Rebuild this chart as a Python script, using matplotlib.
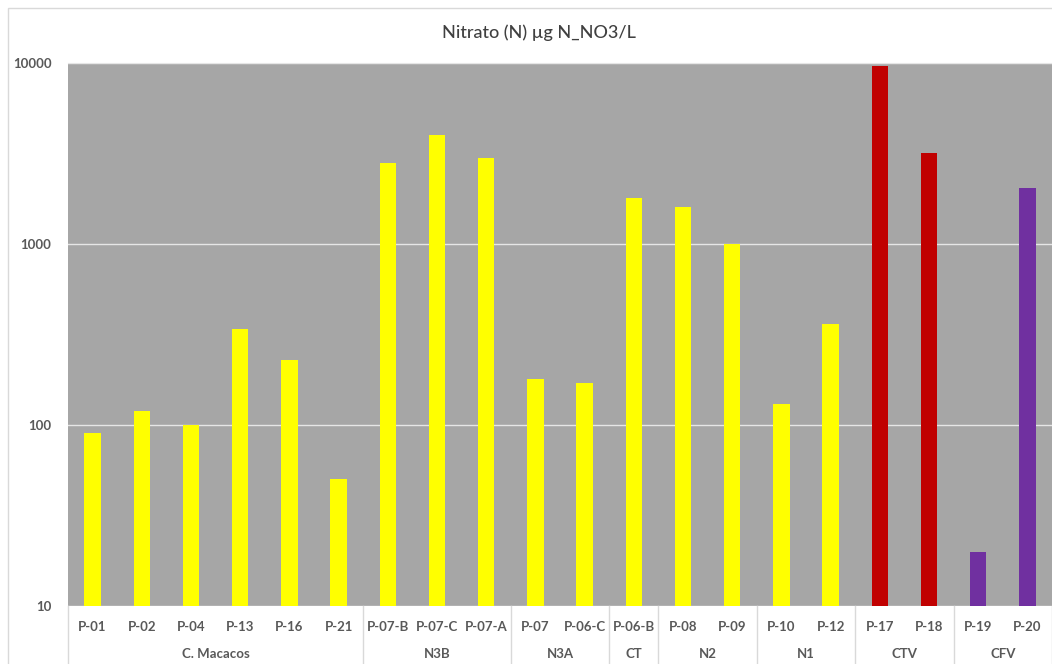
import matplotlib
matplotlib.use("Agg")
import matplotlib.pyplot as plt
from matplotlib.patches import Rectangle
import matplotlib.transforms as mtransforms

plt.rcParams['font.family'] = ['Lato', 'DejaVu Sans']

categories = ["P-01", "P-02", "P-04", "P-13", "P-16", "P-21",
              "P-07-B", "P-07-C", "P-07-A", "P-07", "P-06-C", "P-06-B",
              "P-08", "P-09", "P-10", "P-12", "P-17", "P-18", "P-19", "P-20"]
values = [90, 120, 100, 340, 230, 50,
          2800, 4000, 3000, 180, 170, 1800,
          1600, 1000, 130, 360, 9600, 3200, 20, 2050]
groups = ["C. Macacos", "N3B", "N3A", "CT", "N2", "N1", "CTV", "CFV"]
group_sizes = [6, 3, 2, 1, 2, 2, 2, 2]
group_colors = {"CTV": "#C00000", "CFV": "#7030A0"}
default_color = "#FFFF00"
title = "Nitrato (N) µg N_NO3/L"
yticks = [10, 100, 1000, 10000]

W, H = 1052, 664
fig = plt.figure(figsize=(W / 100, H / 100), dpi=100)
fig.patch.set_facecolor("white")
fig.patches.append(Rectangle((8 / W, -0.01), 1.02, 1 - 8 / H + 0.01, transform=fig.transFigure,
                             fill=False, edgecolor="#D9D9D9", linewidth=1))

left, right, top, bottom = 68, 1052, 63, 606
ax = fig.add_axes([left / W, 1 - bottom / H, (right - left) / W, (bottom - top) / H])
ax.set_facecolor("#A6A6A6")

colors = []
for g, n in zip(groups, group_sizes):
    colors += [group_colors.get(g, default_color)] * n

x = list(range(len(categories)))
ax.bar(x, values, width=0.33, color=colors, zorder=3, bottom=0)
ax.set_yscale("log")
ax.set_ylim(10, 10000)
ax.set_xlim(-0.5, len(categories) - 0.5)
ax.set_yticks(yticks)
ax.set_yticklabels([str(v) for v in yticks], fontsize=9.5, fontweight="bold", color="#595959")
ax.yaxis.set_minor_locator(matplotlib.ticker.NullLocator())
ax.tick_params(axis="y", length=0, pad=12)
ax.tick_params(axis="x", length=0)
ax.set_xticks([])
ax.grid(axis="y", color="#E6E6E6", linewidth=1, zorder=1)
for s in ax.spines.values():
    s.set_visible(False)
ax.spines["top"].set_visible(True)
ax.spines["top"].set_color("#E6E6E6")

trans = mtransforms.blended_transform_factory(ax.transData, ax.transAxes)
ph = bottom - top
tick_y = -(627 - bottom) / ph
grp_y = -(654 - bottom) / ph
sep_bot = -(H - bottom + 2) / ph
for i, c in enumerate(categories):
    ax.text(i, tick_y, c, transform=trans, ha="center", va="center",
            fontsize=9.5, fontweight="bold", color="#595959", clip_on=False)

start = 0
for g, n in zip(groups, group_sizes):
    center = start + (n - 1) / 2
    ax.text(center, grp_y, g, transform=trans, ha="center", va="center",
            fontsize=9.5, fontweight="bold", color="#595959", clip_on=False)
    edge = start + n - 0.5
    ax.plot([edge, edge], [0, sep_bot], transform=trans, color="#D9D9D9",
            linewidth=1, clip_on=False)
    start += n
ax.plot([-0.5, -0.5], [0, sep_bot], transform=trans, color="#D9D9D9",
        linewidth=1, clip_on=False)

fig.text(539 / W, 1 - 33 / H, title, ha="center", va="center",
         fontsize=13, color="#404040", fontweight="medium")

fig.savefig("out.png", dpi=100)
